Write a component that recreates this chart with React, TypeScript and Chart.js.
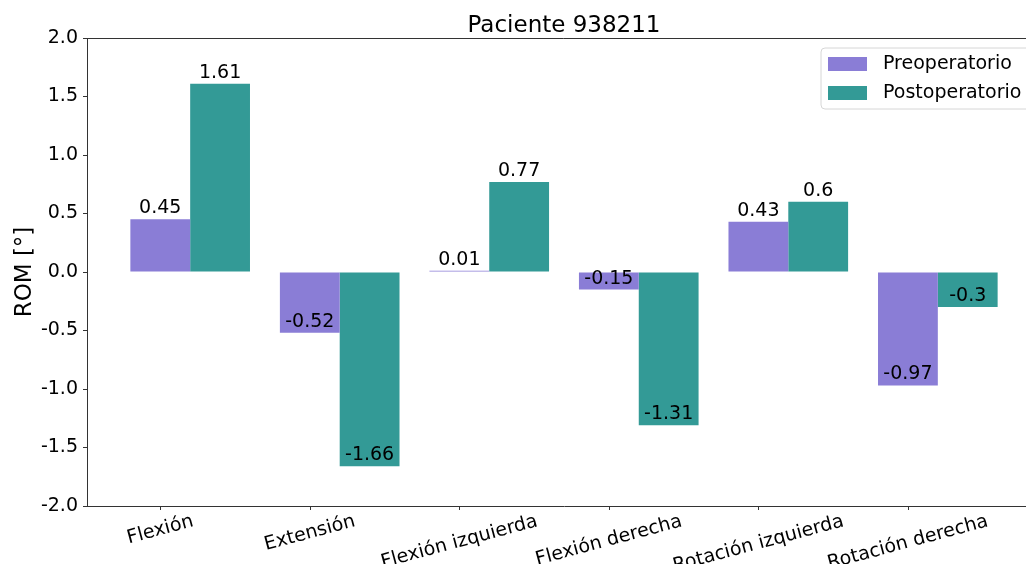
import React, { useEffect, useRef } from "react";
import { Chart, registerables } from "chart.js";

Chart.register(...registerables);

const categories = [
  "Flexión",
  "Extensión",
  "Flexión izquierda",
  "Flexión derecha",
  "Rotación izquierda",
  "Rotación derecha",
];
const preValues = [0.45, -0.52, 0.01, -0.15, 0.43, -0.97];
const postValues = [1.61, -1.66, 0.77, -1.31, 0.6, -0.3];
const yTickValues = [-2.0, -1.5, -1.0, -0.5, 0.0, 0.5, 1.0, 1.5, 2.0];
const seriesNames = ["Preoperatorio", "Postoperatorio"];
const seriesColors = ["#8a7dd6", "#339a96"];
const titleText = "Paciente 938211";
const yAxisLabel = "ROM [°]";

const W = 1046;
const H = 564;
const FONT = '"DejaVu Sans", sans-serif';
const FS = 19;

export default function App() {
  const ref = useRef<HTMLCanvasElement>(null);

  useEffect(() => {
    document.documentElement.style.overflow = "hidden";
    document.body.style.margin = "0";
    document.body.style.overflow = "hidden";
    const canvas = ref.current;
    if (!canvas) return;

    const overlay = {
      id: "overlay",
      afterDraw(chart: any) {
        const ctx = chart.ctx as CanvasRenderingContext2D;
        const a = chart.chartArea;
        const preMeta = chart.getDatasetMeta(0);
        ctx.save();
        // top and right spines
        ctx.strokeStyle = "#333";
        ctx.lineWidth = 1;
        ctx.beginPath();
        ctx.moveTo(a.left, Math.round(a.top) + 0.5);
        ctx.lineTo(Math.round(a.right) - 0.5, Math.round(a.top) + 0.5);
        ctx.lineTo(Math.round(a.right) - 0.5, a.bottom);
        ctx.stroke();

        // x tick marks at the centre of the first series' bars
        const tickXs = preMeta.data.map((el: any) => el.x);
        tickXs.forEach((tx: number) => {
          const x = Math.round(tx) + 0.5;
          ctx.beginPath();
          ctx.moveTo(x, a.bottom);
          ctx.lineTo(x, a.bottom + 4);
          ctx.stroke();
        });

        // x labels, rotated 15 degrees, centered under tick
        ctx.fillStyle = "#000";
        ctx.font = `${FS}px ${FONT}`;
        const th = (15 * Math.PI) / 180;
        categories.forEach((lab, i) => {
          const x = tickXs[i];
          const w = ctx.measureText(lab).width;
          const h = FS * 1.164;
          const bh = w * Math.sin(th) + h * Math.cos(th);
          const cy = a.bottom + 4.5 + bh / 2;
          ctx.save();
          ctx.translate(x, cy);
          ctx.rotate(-th);
          ctx.textAlign = "center";
          ctx.textBaseline = "middle";
          ctx.fillText(lab, 0, 0);
          ctx.restore();
        });

        // value labels
        ctx.textAlign = "center";
        ctx.textBaseline = "alphabetic";
        chart.data.datasets.forEach((ds: any, di: number) => {
          const meta = chart.getDatasetMeta(di);
          meta.data.forEach((el: any, i: number) => {
            const v = ds.data[i].y;
            ctx.fillText(String(v), el.x, el.y - 6);
          });
        });

        // title
        ctx.font = `23px ${FONT}`;
        ctx.textAlign = "center";
        ctx.fillText(titleText, (a.left + a.right) / 2, 32);

        // y label
        ctx.save();
        ctx.translate(25, (a.top + a.bottom) / 2);
        ctx.rotate(-Math.PI / 2);
        ctx.textAlign = "center";
        ctx.textBaseline = "middle";
        ctx.fillText(yAxisLabel, 0, 0);
        ctx.restore();

        // legend
        const bx = 821;
        const by = a.top + 10;
        const bw = a.right - 8 - bx;
        const bhh = 61;
        ctx.beginPath();
        const r = 4;
        ctx.moveTo(bx + r, by);
        ctx.lineTo(bx + bw - r, by);
        ctx.arcTo(bx + bw, by, bx + bw, by + r, r);
        ctx.lineTo(bx + bw, by + bhh - r);
        ctx.arcTo(bx + bw, by + bhh, bx + bw - r, by + bhh, r);
        ctx.lineTo(bx + r, by + bhh);
        ctx.arcTo(bx, by + bhh, bx, by + bhh - r, r);
        ctx.lineTo(bx, by + r);
        ctx.arcTo(bx, by, bx + r, by, r);
        ctx.closePath();
        ctx.fillStyle = "rgba(255,255,255,0.8)";
        ctx.fill();
        ctx.strokeStyle = "#d6d6d6";
        ctx.stroke();

        ctx.font = `${FS}px ${FONT}`;
        ctx.textAlign = "left";
        ctx.textBaseline = "alphabetic";
        const rows = [a.top + 31, a.top + 60];
        chart.data.datasets.forEach((ds: any, di: number) => {
          const base = rows[di];
          ctx.fillStyle = ds.backgroundColor;
          ctx.fillRect(828, base - 12, 39, 14);
          ctx.fillStyle = "#000";
          ctx.fillText(ds.label, 883, base);
        });
        ctx.restore();
      },
    };

    const chart = new Chart(canvas, {
      type: "bar",
      data: {
        datasets: [
          {
            label: seriesNames[0],
            data: preValues.map((v, i) => ({ x: i, y: v })),
            backgroundColor: seriesColors[0],
            borderWidth: 0,
          },
          {
            label: seriesNames[1],
            data: postValues.map((v, i) => ({ x: i, y: v })),
            backgroundColor: seriesColors[1],
            borderWidth: 0,
          },
        ] as any,
      },
      options: {
        responsive: false,
        animation: false,
        devicePixelRatio: 1,
        layout: { padding: { left: 0, top: 38, right: W - 1041, bottom: 0 } },
        plugins: {
          legend: { display: false },
          title: { display: false },
          tooltip: { enabled: false },
        },
        datasets: { bar: { categoryPercentage: 0.8, barPercentage: 1.0 } },
        scales: {
          x: {
            type: "linear",
            min: -0.69,
            max: 5.69,
            offset: false,
            afterBuildTicks: (s: any) => {
              s.ticks = categories.map((_, i) => ({ value: i }));
            },
            ticks: { display: false },
            grid: { display: false, offset: false },
            border: { display: true, color: "#333", width: 1 },
            afterFit: (s: any) => {
              s.height = 58;
            },
          },
          y: {
            min: -2,
            max: 2,
            afterBuildTicks: (s: any) => {
              s.ticks = yTickValues.map((v) => ({ value: v }));
            },
            ticks: {
              font: { family: FONT, size: FS },
              color: "#000",
              padding: 5,
              callback: (v: any) => Number(v).toFixed(1),
            },
            grid: {
              display: true,
              drawOnChartArea: false,
              drawTicks: true,
              tickLength: 4,
              color: "#333",
            },
            border: { display: true, color: "#333", width: 1 },
            afterFit: (s: any) => {
              s.width = 87;
            },
          },
        },
      } as any,
      plugins: [overlay],
    });

    return () => chart.destroy();
  }, []);

  return (
    <div
      style={{
        position: "absolute",
        left: 0,
        top: 0,
        width: W,
        height: H,
        overflow: "hidden",
        background: "#fff",
      }}
    >
      <canvas ref={ref} width={W} height={H} style={{ display: "block" }} />
    </div>
  );
}
